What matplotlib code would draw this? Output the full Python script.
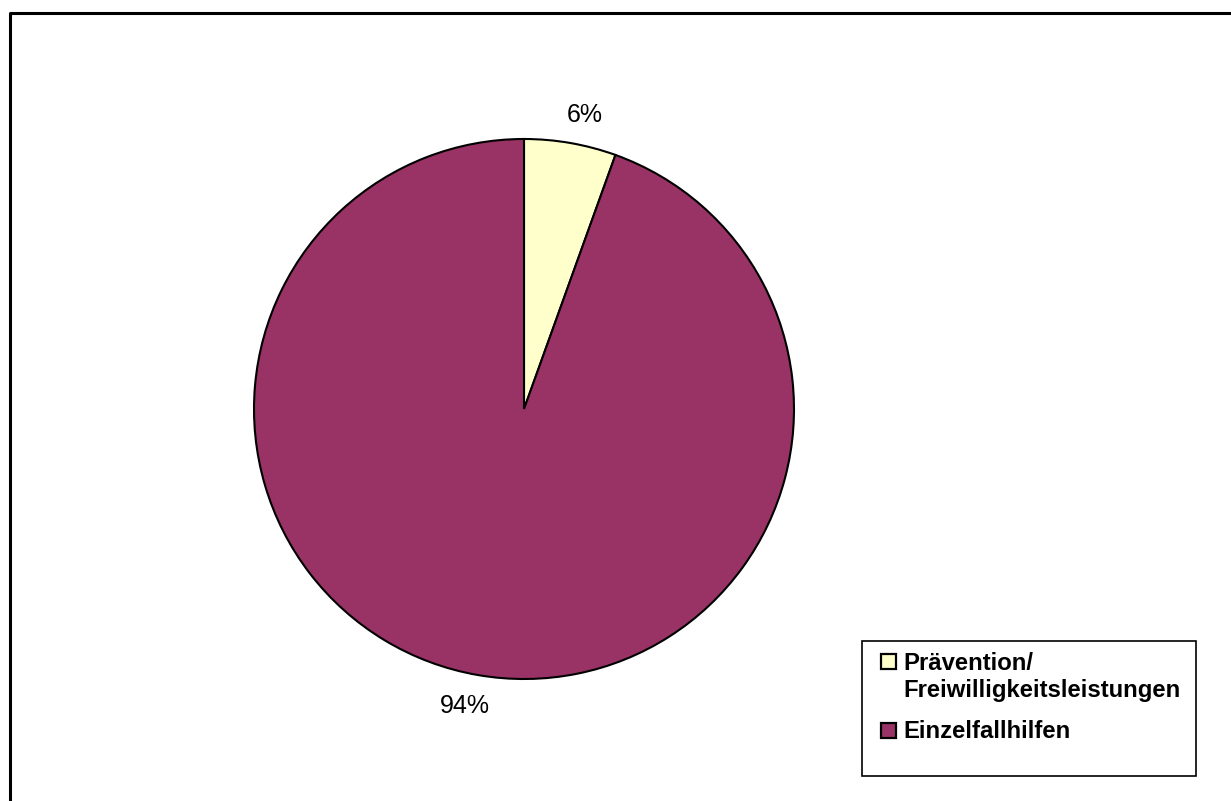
import matplotlib
matplotlib.use("Agg")
import matplotlib.pyplot as plt
from matplotlib.patches import Rectangle

categories = ["Prävention/\nFreiwilligkeitsleistungen", "Einzelfallhilfen"]
values = [5.5, 94.5]
colors = ["#FFFFCC", "#993366"]
pct_labels = ["6%", "94%"]

W, H = 1231, 801
fig = plt.figure(figsize=(W / 100, H / 100), dpi=100)
ax = fig.add_axes([0, 0, 1, 1])
ax.set_xlim(0, W)
ax.set_ylim(0, H)
ax.set_aspect("equal")
ax.axis("off")

def py(y):
    return H - y

# outer frame (left and top visible)
ax.plot([9.5, 9.5, W + 5], [py(H + 5), py(12.5), py(12.5)], color="black", lw=2.2,
        solid_capstyle="projecting", clip_on=False)

cx, cy, r = 524, 409, 270
wedges, _ = ax.pie(values, colors=colors, startangle=90, counterclock=False,
                   center=(cx, py(cy)), radius=r, frame=True,
                   wedgeprops=dict(edgecolor="black", linewidth=1.5))
ax.set_xlim(0, W)
ax.set_ylim(0, H)
ax.axis("off")

label_pos = [(585, 115), (465, 706)]
for (x, y), t in zip(label_pos, pct_labels):
    ax.text(x, py(y), t, ha="center", va="center", fontsize=18,
            family="Liberation Sans")

# legend
ax.add_patch(Rectangle((862, py(776)), 334, 135, facecolor="white",
                       edgecolor="black", lw=1.2))
marker_y = [662, 731]
text_y = [677, 731]
for cat, col, my, ty in zip(categories, colors, marker_y, text_y):
    ax.add_patch(Rectangle((881, py(my + 7)), 15, 15, facecolor=col,
                           edgecolor="black", lw=1.6))
    ax.text(903, py(ty), cat, ha="left", va="center", fontsize=17.2,
            fontweight="bold", family="Liberation Sans", linespacing=1.27)

fig.savefig("out.png", dpi=100)
